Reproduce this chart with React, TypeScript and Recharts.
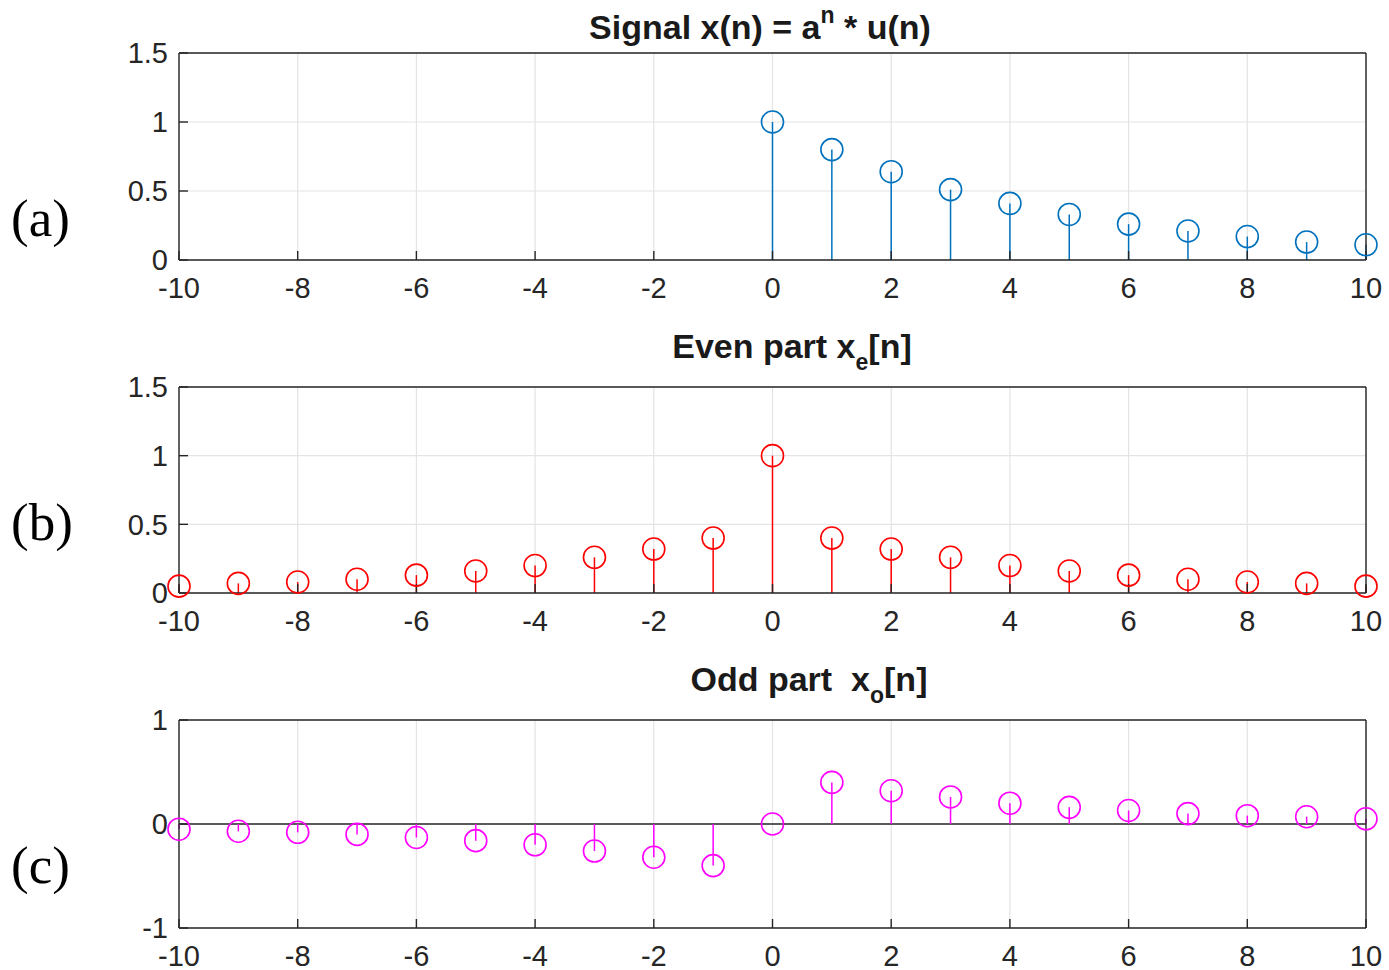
import {
  CartesianGrid,
  ErrorBar,
  ReferenceLine,
  Scatter,
  ScatterChart,
  XAxis,
  YAxis,
} from "recharts"

// sample index n = -10 .. 10
const nAll = [-10, -9, -8, -7, -6, -5, -4, -3, -2, -1, 0, 1, 2, 3, 4, 5, 6, 7, 8, 9, 10]
// x(n) is only defined for n >= 0
const nCausal = [0, 1, 2, 3, 4, 5, 6, 7, 8, 9, 10]
const signalValues = [1, 0.8, 0.64, 0.51, 0.41, 0.33, 0.26, 0.21, 0.17, 0.13, 0.11]
const evenValues = [
  0.05, 0.07, 0.08, 0.1, 0.13, 0.16, 0.2, 0.26, 0.32, 0.4, 1,
  0.4, 0.32, 0.26, 0.2, 0.16, 0.13, 0.1, 0.08, 0.07, 0.05,
]
const oddValues = [
  -0.05, -0.07, -0.08, -0.1, -0.13, -0.16, -0.2, -0.26, -0.32, -0.4, 0,
  0.4, 0.32, 0.26, 0.2, 0.16, 0.13, 0.1, 0.08, 0.07, 0.05,
]

const xTicks = [-10, -8, -6, -4, -2, 0, 2, 4, 6, 8, 10]
const posTicks = [0, 0.5, 1, 1.5]
const oddTicks = [-1, 0, 1]

const toRows = (ns: number[], vs: number[]) => ns.map((n, i) => ({ n, v: vs[i] }))

const AXIS = "#262626"
const FONT = "'Liberation Sans', Arial, Helvetica, sans-serif"
const tickStyle = { fill: AXIS, fontSize: 29, fontFamily: FONT }
const TOP_PAD = 20

type StemProps = {
  data: { n: number; v: number }[]
  color: string
  domain: [number, number]
  yTicks: number[]
  plotTop: number
  plotHeight: number
  baseline?: boolean
}

function StemPanel({ data, color, domain, yTicks, plotTop, plotHeight, baseline }: StemProps) {
  const circle = (p: any) => (
    <circle cx={p.cx} cy={p.cy} r={11} fill="none" stroke={color} strokeWidth={1.6} />
  )
  return (
    <div style={{ position: "absolute", left: 0, top: plotTop - TOP_PAD }}>
      <ScatterChart
        width={1389}
        height={TOP_PAD + plotHeight + 52}
        margin={{ top: TOP_PAD - 1, right: 22, left: 0, bottom: 0 }}
        style={{ overflow: "visible" }}
      >
        <CartesianGrid stroke="#e4e4e4" strokeWidth={1.2} />
        <XAxis
          type="number"
          dataKey="n"
          domain={[-10, 10]}
          ticks={xTicks}
          height={52}
          tickSize={-9}
          tickMargin={26}
          tick={tickStyle}
          stroke={AXIS}
          strokeWidth={1.4}
          interval={0}
        />
        <XAxis
          xAxisId="top"
          type="number"
          dataKey="n"
          orientation="top"
          domain={[-10, 10]}
          ticks={xTicks}
          height={1}
          tickSize={-9}
          tick={false}
          stroke={AXIS}
          strokeWidth={1.4}
          interval={0}
        />
        <YAxis
          type="number"
          dataKey="v"
          domain={domain}
          ticks={yTicks}
          width={179}
          tickSize={-9}
          tickMargin={20}
          tick={tickStyle}
          stroke={AXIS}
          strokeWidth={1.4}
          interval={0}
        />
        <YAxis
          yAxisId="right"
          type="number"
          dataKey="v"
          orientation="right"
          domain={domain}
          ticks={yTicks}
          width={1}
          tickSize={-9}
          tick={false}
          stroke={AXIS}
          strokeWidth={1.4}
          interval={0}
        />
        {baseline && <ReferenceLine y={0} stroke="#5a5a5a" strokeWidth={2} />}
        {/* invisible series so the top / right frame axes get rendered */}
        <Scatter
          data={data}
          xAxisId="top"
          yAxisId="right"
          shape={() => <g />}
          isAnimationActive={false}
        />
        <Scatter data={data} shape={circle} isAnimationActive={false}>
          <ErrorBar
            dataKey={(d: any) => [d.v, 0]}
            direction="y"
            width={0}
            stroke={color}
            strokeWidth={1.5}
            isAnimationActive={false}
          />
        </Scatter>
      </ScatterChart>
    </div>
  )
}

const titleStyle: React.CSSProperties = {
  position: "absolute",
  width: 700,
  height: 40,
  textAlign: "center",
  fontFamily: FONT,
  fontWeight: "bold",
  fontSize: 34,
  color: "#1a1a1a",
  whiteSpace: "pre",
  lineHeight: "40px",
}
const supStyle: React.CSSProperties = {
  fontSize: 23,
  position: "relative",
  top: -16,
  verticalAlign: "baseline",
  lineHeight: 0,
}
const subStyle: React.CSSProperties = {
  fontSize: 23,
  position: "relative",
  top: 12,
  verticalAlign: "baseline",
  lineHeight: 0,
}

const sideLabel: React.CSSProperties = {
  position: "absolute",
  left: 11,
  fontFamily: "'Liberation Serif', 'DejaVu Serif', serif",
  fontSize: 53,
  color: "#000",
  lineHeight: "56px",
}

export default function App() {
  return (
    <div style={{ position: "absolute", left: 0, top: 0, width: 1389, height: 970, background: "#fff" }}>
      <div style={{ ...titleStyle, left: 760 - 350, top: 7 }}>
        Signal x(n) = a<span style={supStyle}>n</span> * u(n)
      </div>
      <div style={{ ...titleStyle, left: 792 - 350, top: 326 }}>
        Even part x<span style={subStyle}>e</span>[n]
      </div>
      <div style={{ ...titleStyle, left: 809 - 350, top: 659 }}>
        Odd part  x<span style={subStyle}>o</span>[n]
      </div>

      <div style={{ ...sideLabel, top: 190 }}>(a)</div>
      <div style={{ ...sideLabel, top: 494 }}>(b)</div>
      <div style={{ ...sideLabel, top: 837 }}>(c)</div>

      <StemPanel
        data={toRows(nCausal, signalValues)}
        color="#0072BD"
        domain={[0, 1.5]}
        yTicks={posTicks}
        plotTop={53}
        plotHeight={207}
      />
      <StemPanel
        data={toRows(nAll, evenValues)}
        color="#FF0000"
        domain={[0, 1.5]}
        yTicks={posTicks}
        plotTop={387}
        plotHeight={206}
      />
      <StemPanel
        data={toRows(nAll, oddValues)}
        color="#FF00FF"
        domain={[-1, 1]}
        yTicks={oddTicks}
        plotTop={720}
        plotHeight={208}
        baseline
      />
    </div>
  )
}
